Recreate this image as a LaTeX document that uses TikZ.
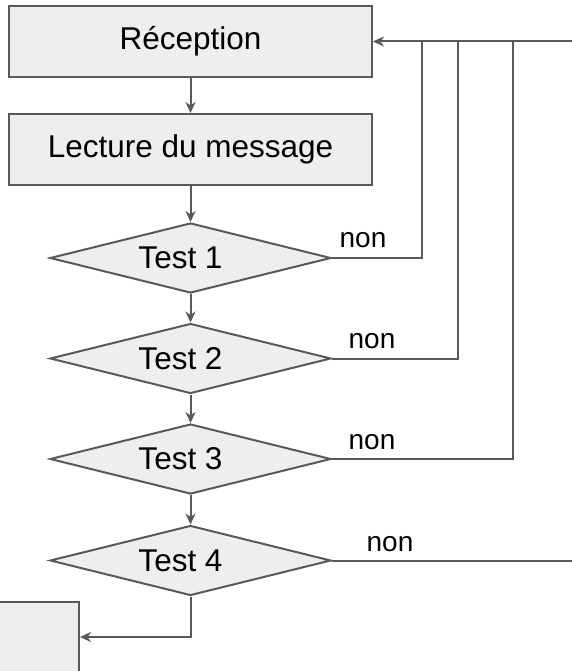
\documentclass[tikz,border=0pt]{standalone}
\usepackage{fontspec}
\setmainfont{Liberation Sans}
\usepackage{xcolor}
\usepackage{tikz}
\usetikzlibrary{arrows.meta,positioning,shapes.geometric}

\definecolor{linegray}{HTML}{595959}
\definecolor{boxgray}{HTML}{EEEEEE}

\begin{document}
\begin{tikzpicture}[x=1pt, y=-1pt,
  box/.style={rectangle, draw=linegray, fill=boxgray, line width=2pt, minimum width=363pt, minimum height=71pt, font=\fontsize{31.5}{36}\selectfont},
  test/.style={diamond, draw=linegray, fill=boxgray, line width=2pt, minimum width=281pt, minimum height=70pt, inner sep=0pt, aspect=4, font=\fontsize{31.5}{36}\selectfont},
  non/.style={font=\fontsize{28}{32}\selectfont},
  link/.style={draw=linegray, line width=2pt},
  >={Stealth[length=11pt,width=10pt,inset=3.5pt]}
]
\useasboundingbox (0,0) rectangle (572,671);

\node[box] (recep)   at (190.5,41.5)  {Réception};
\node[box] (lecture) at (190.5,149.5) {Lecture du message};
\node[test] (test1) at (190.5,258)   {Test 1\hspace*{20pt}};
\node[test] (test2) at (190.5,358.5) {Test 2\hspace*{20pt}};
\node[test] (test3) at (190.5,459)   {Test 3\hspace*{20pt}};
\node[test] (test4) at (190.5,560.5) {Test 4\hspace*{20pt}};
\node[box, minimum width=100pt, minimum height=70pt] (suite) at (29,637) {};

\node[non] (non1) at (363,240) {non};
\node[non] (non2) at (372,341) {non};
\node[non] (non3) at (372,442) {non};
\node[non] (non4) at (390,544) {non};

% retour vers la reception
\coordinate (r0) at (572,41.5);
\coordinate (r1) at (422,41.5);
\coordinate (r2) at (458,41.5);
\coordinate (r3) at (513,41.5);
\coordinate (r4) at (572,560.5);

\draw[link,->] (recep) -- (lecture);
\draw[link,->] (lecture) -- (test1);
\draw[link,->] (test1) -- (test2);
\draw[link,->] (test2) -- (test3);
\draw[link,->] (test3) -- (test4);
\draw[link,->] (test4.south) |- (suite.east);

\draw[link,->] (r0) -- (recep.east);
\draw[link] (test1.east) -| (r1);
\draw[link] (test2.east) -| (r2);
\draw[link] (test3.east) -| (r3);
\draw[link] (test4.east) -- (r4);
\end{tikzpicture}
\end{document}
